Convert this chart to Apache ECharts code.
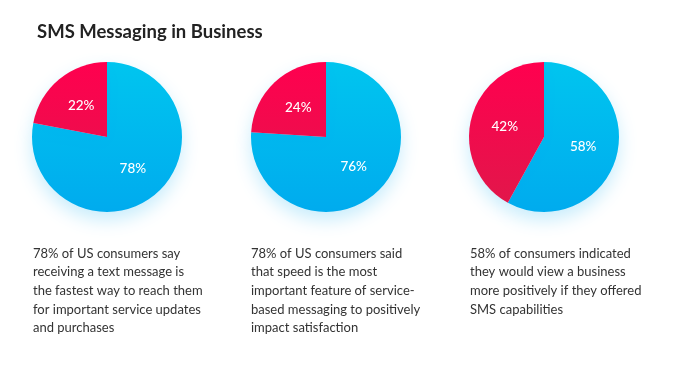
<!DOCTYPE html>
<html>
<head>
<meta charset="utf-8">
<style>
html,body{margin:0;padding:0;background:#fff;}
#chart{width:700px;height:365px;}
</style>
<script src="https://cdn.jsdelivr.net/npm/echarts@6/dist/echarts.min.js"></script>
</head>
<body>
<div id="chart"></div>
<script>
const titleText = 'SMS Messaging in Business';
const sliceNames = ['Yes', 'No'];
const pie1Values = [78, 22];
const pie2Values = [76, 24];
const pie3Values = [58, 42];
const captions = [
  '78% of US consumers say\nreceiving a text message is\nthe fastest way to reach them\nfor important service updates\nand purchases',
  '78% of US consumers said\nthat speed is the most\nimportant feature of service-\nbased messaging to positively\nimpact satisfaction',
  '58% of consumers indicated\nthey would view a business\nmore positively if they offered\nSMS capabilities'
];

const chart = echarts.init(document.getElementById('chart'));
const blueGrad = new echarts.graphic.LinearGradient(0, 62, 0, 212, [
  {offset: 0, color: '#00c5ef'}, {offset: 1, color: '#00abee'}
], true);
const redGrad = new echarts.graphic.LinearGradient(0, 62, 0, 212, [
  {offset: 0, color: '#ff004f'}, {offset: 1, color: '#e0184a'}
], true);
function pieSeries(values, cx) {
  return {
    type: 'pie',
    center: [cx, 137],
    radius: [0, 75],
    startAngle: 90,
    clockwise: true,
    silent: true,
    animation: false,
    data: values.map((v, i) => ({
      name: sliceNames[i], value: v,
      itemStyle: {color: i === 0 ? blueGrad : redGrad}
    })),
    itemStyle: {
      borderWidth: 0,
      shadowBlur: 18,
      shadowOffsetY: 8,
      shadowColor: 'rgba(0,170,240,0.22)'
    },
    label: {
      show: true,
      position: 'inside',
      formatter: '{c}%',
      color: '#ffffff',
      fontFamily: 'Lato',
      fontSize: 13.5,
      fontWeight: 500
    },
    labelLine: {show: false}
  };
}
const colX = [33, 251, 470];
chart.setOption({
  backgroundColor: '#ffffff',
  title: {
    text: titleText,
    left: 32,
    top: 18,
    textStyle: {fontFamily: 'Lato', fontWeight: 'bold', fontSize: 18.5, color: '#222222'}
  },
  series: [pieSeries(pie1Values, 107), pieSeries(pie2Values, 326), pieSeries(pie3Values, 544)],
  graphic: captions.map((t, i) => ({
    type: 'text',
    left: colX[i],
    top: 244,
    silent: true,
    style: {
      text: t,
      fontFamily: 'Lato',
      fontSize: 13,
      lineHeight: 18.7,
      fill: '#333333'
    }
  }))
});
</script>
</body>
</html>
